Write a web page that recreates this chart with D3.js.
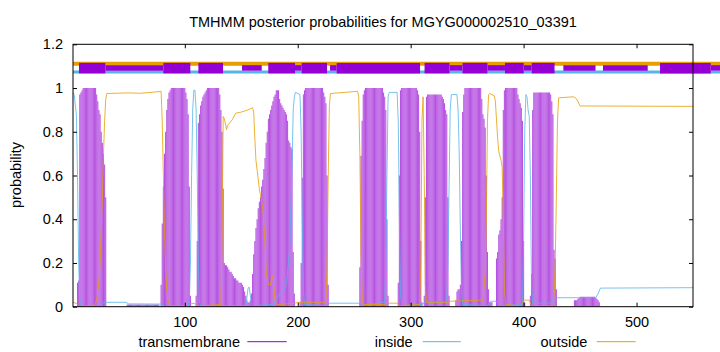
<!DOCTYPE html>
<html>
<head>
<meta charset="utf-8">
<script src="https://cdn.jsdelivr.net/npm/d3@7"></script>
<style>
  body { margin: 0; background: #fff; }
  svg { display: block; font-family: "Liberation Sans", Arial, sans-serif; }
</style>
</head>
<body>
<div id="chart"></div>
<script>
  // sequence / axis data
  var seqLength = 550;
  var yTicks = [0, 0.2, 0.4, 0.6, 0.8, 1, 1.2];
  var xTicks = [100, 200, 300, 400, 500];

  // transmembrane posterior, per residue, in runs starting at tmStarts[i]
  var tmStarts = [5, 49, 79, 110, 202, 255, 289, 312, 340, 376, 406, 445];
  var tmProbs = [
    [0.11,0.12,0.97,0.98,0.99,1,1,1,1,1,1,1,1,1,1,1,1,0.97,0.94,0.9,0.88,0.8,0.75,0.7,0.65,0.5],
    [0.01,0.01,0.01,0.01,0.01,0.01,0.01,0.01,0.01,0.01,0.01,0.01,0.01,0.01,0.01,0.01,0.01,0.01,0.01,0.01,0.01,0.01,0.01,0.01,0.01,0.01,0.01,0.01,0.01],
    [0.1,0.38,0.55,0.7,0.8,0.9,0.95,0.98,0.99,1,1,1,1,1,1,1,1,1,1,1,1,1,0.98,0.95,0.88,0.55,0.05],
    [0.05,0.3,0.84,0.88,0.92,0.94,0.96,0.97,0.98,0.99,1,1,1,1,1,1,1,1,1,1,1,0.97,0.9,0.8,0.54,
     0.2,0.19,0.19,0.18,0.17,0.16,0.16,0.15,0.14,0.13,0.13,0.12,0.12,0.11,0.11,0.11,0.1,0.09,0.07,0.05,0.03,0.02,0.02,0.03,0.06,0.15,
     0.24,0.3,0.36,0.4,0.45,0.48,0.5,0.55,0.58,0.63,0.68,0.75,0.8,0.86,0.88,0.9,0.92,0.94,0.96,0.97,
     0.99,0.99,0.99,0.95,0.93,0.92,0.91,0.9,0.89,0.88,0.85,0.76,0.75,0.73,0.72,0.25,0.06],
    [0.02,0.2,0.59,0.97,0.99,1,1,1,1,1,1,1,1,1,1,1,1,1,1,1,1,0.98,0.96,0.93,0.6,0.1],
    [0.18,0.69,0.85,0.97,0.99,1,1,1,1,1,1,1,1,1,1,1,1,1,1,1,1,0.98,0.96,0.9,0.4,0.05],
    [0.11,0.6,0.99,1,1,1,1,1,1,1,1,1,1,1,1,1,1,0.99,0.97,0.8,0.3,0.02],
    [0.05,0.5,0.96,0.97,0.97,0.97,0.97,0.97,0.97,0.97,0.97,0.97,0.97,0.97,0.97,0.97,0.96,0.95,0.93,0.9,0.88,0.5,0.05],
    [0.03,0.07,0.08,0.08,0.1,0.3,0.89,0.97,1,1,1,1,1,1,1,1,1,1,1,1,1,1,1,0.95,0.88,0.86,0.82,0.6,0.25,0.08,0.02,0.02,0.02],
    [0.22,0.25,0.33,0.35,0.4,0.5,0.9,0.99,1,1,1,1,1,1,1,1,1,1,1,0.97,0.95,0.93,0.91,0.85,0.3,0.02],
    [0.05,0.15,0.9,0.98,0.98,0.98,0.98,0.98,0.98,0.98,0.98,0.98,0.98,0.98,0.98,0.98,0.98,0.98,0.97,0.94,0.88,0.26,0.22,0.08],
    [0.03,0.03,0.03,0.035,0.04,0.046,0.046,0.046,0.046,0.046,0.046,0.046,0.046,0.046,0.046,0.046,0.046,0.046,0.046,0.04,0.035,0.03,0.02]
  ];

  // inside / outside curves as [residue, probability]
  var insidePts = [[1,0.98],[2,0.97],[4,0.88],[5,0.6],[6,0.2],[7,0.03],[8,0.005],[26,0.003],[28,0.02],[48,0.02],[50,0.013],[80,0.012],[82,0.002],
    [103,0.003],[104,0.03],[105,0.2],[106,0.6],[107,0.9],[108,0.99],[109,0.99],[110,0.9],[111,0.6],[112,0.2],[113,0.02],[114,0.005],
    [154,0.005],[155,0.04],[156,0.085],[157,0.09],[158,0.05],[159,0.01],[160,0.005],[178,0.01],[181,0.03],[184,0.06],[187,0.07],[190,0.1],
    [193,0.28],[195,0.65],[196,0.9],[197,0.96],[198,0.98],[202,0.97],[203,0.8],[204,0.4],[205,0.08],[206,0.01],[226,0.005],[228,0.016],
    [254,0.016],[256,0.005],[277,0.02],[278,0.2],[279,0.6],[280,0.96],[281,0.98],[288,0.98],[289,0.85],[290,0.4],[291,0.05],[292,0.005],
    [310,0.01],[313,0.02],[330,0.02],[332,0.03],[333,0.2],[334,0.55],[335,0.9],[336,0.97],[341,0.97],[342,0.9],[343,0.7],[344,0.35],
    [345,0.08],[346,0.01],[368,0.005],[371,0.025],[376,0.025],[379,0.005],[399,0.01],[400,0.3],[401,0.8],[402,0.97],[403,0.96],[404,0.9],
    [405,0.87],[406,0.6],[407,0.1],[408,0.016],[425,0.016],[427,0.038],[429,0.041],[464,0.041],[466,0.06],[468,0.085],[550,0.087]];

  var outsidePts = [[1,0.02],[4,0.015],[6,0.003],[7,0],[20,0.005],[22,0.03],[24,0.12],[25,0.2],[26,0.35],[27,0.5],[28,0.7],[29,0.85],
    [30,0.95],[31,0.975],[50,0.978],[60,0.976],[70,0.98],[79,0.985],[80,0.85],[81,0.6],[82,0.35],[83,0.18],[84,0.08],[85,0.03],[87,0.005],
    [103,0.003],[105,0.015],[109,0.015],[111,0.003],[132,0.01],[133,0.3],[134,0.87],[135,0.86],[137,0.81],[138,0.83],[142,0.855],[145,0.885],
    [150,0.89],[156,0.9],[160,0.91],[161,0.89],[162,0.77],[163,0.67],[166,0.54],[168,0.48],[169,0.45],[171,0.3],[172,0.16],[174,0.1],
    [176,0.1],[177,0.14],[178,0.137],[180,0.025],[182,0.01],[197,0.015],[200,0.02],[224,0.02],[225,0.03],[226,0.2],[227,0.6],[228,0.92],
    [229,0.975],[253,0.985],[254,0.96],[255,0.7],[256,0.25],[257,0.05],[258,0.01],[277,0.01],[280,0.016],[289,0.016],[290,0.005],
    [308,0.01],[309,0.2],[310,0.85],[311,0.96],[312,0.6],[313,0.1],[314,0.02],[333,0.02],[335,0.025],[364,0.03],[366,0.15],[367,0.4],
    [368,0.85],[369,0.97],[370,0.975],[372,0.97],[374,0.965],[375,0.94],[377,0.77],[378,0.71],[380,0.67],[381,0.64],[382,0.42],[383,0.08],
    [384,0.01],[398,0.003],[400,0.03],[405,0.03],[407,0.005],[426,0.005],[427,0.05],[428,0.2],[429,0.5],[430,0.85],[431,0.955],
    [444,0.96],[446,0.955],[448,0.94],[450,0.918],[550,0.916]];

  // top strip: predicted segments (residue ranges)
  var tmBoxes = [[6.3,29.6],[81,104.9],[112,133.8],[173.9,197.6],[203.5,225.9],[234.5,308.3],[312.3,334.4],[345.9,367.9],[383.5,400.1],[407.2,427.4],[520.8,565.7]];
  var tmThin = [[29.6,81],[150.7,168.1],[197.6,203.5],[228.6,234.5],[334.4,345.9],[367.9,383.5],[400.1,407.2],[435.2,463.7],[470.3,509.9],[565.7,575]];
  var stripEnd = 575;

  var colours = { tm: '#9400d3', inside: '#56b4e9', outside: '#e69f00' };

  var width = 720, height = 352;
  var plotLeft = 73, plotRight = 693, plotTop = 44.3, plotBottom = 306.7;

  var x = d3.scaleLinear().domain([1, seqLength]).range([plotLeft, plotRight]);
  var y = d3.scaleLinear().domain([0, 1.2]).range([plotBottom, plotTop]);

  var svg = d3.select('#chart').append('svg')
    .attr('width', width)
    .attr('height', height);

  svg.append('defs').append('clipPath').attr('id', 'plotclip')
    .append('rect')
    .attr('x', plotLeft).attr('y', plotTop)
    .attr('width', plotRight - plotLeft).attr('height', plotBottom - plotTop);

  // impulses
  var tmData = [];
  tmStarts.forEach(function(s, i) {
    tmProbs[i].forEach(function(p, j) {
      tmData.push([s + j, p]);
    });
  });

  var plot = svg.append('g').attr('clip-path', 'url(#plotclip)');

  plot.selectAll('line.imp')
    .data(tmData)
    .enter().append('line')
    .attr('class', 'imp')
    .attr('x1', function(d) { return x(d[0]); })
    .attr('x2', function(d) { return x(d[0]); })
    .attr('y1', y(0))
    .attr('y2', function(d) { return y(d[1]); })
    .attr('stroke', colours.tm)
    .attr('stroke-opacity', 0.68)
    .attr('stroke-width', 1.05);

  var line = d3.line()
    .x(function(d) { return x(d[0]); })
    .y(function(d) { return y(d[1]); });

  plot.append('path').datum(insidePts)
    .attr('d', line).attr('fill', 'none')
    .attr('stroke', colours.inside).attr('stroke-opacity', 0.8).attr('stroke-width', 1);

  plot.append('path').datum(outsidePts)
    .attr('d', line).attr('fill', 'none')
    .attr('stroke', colours.outside).attr('stroke-opacity', 0.8).attr('stroke-width', 1);

  // top strip (not clipped, runs past the frame like the original)
  var strip = svg.append('g');
  strip.append('line')
    .attr('x1', x(1)).attr('x2', x(stripEnd))
    .attr('y1', y(1.111)).attr('y2', y(1.111))
    .attr('stroke', colours.outside).attr('stroke-width', 4);
  strip.append('line')
    .attr('x1', x(1)).attr('x2', x(stripEnd))
    .attr('y1', y(1.073)).attr('y2', y(1.073))
    .attr('stroke', colours.inside).attr('stroke-width', 3);
  strip.selectAll('line.thin')
    .data(tmThin)
    .enter().append('line')
    .attr('class', 'thin')
    .attr('x1', function(d) { return x(d[0]); })
    .attr('x2', function(d) { return x(d[1]); })
    .attr('y1', y(1.092)).attr('y2', y(1.092))
    .attr('stroke', colours.tm).attr('stroke-width', 5.5);
  strip.selectAll('line.box')
    .data(tmBoxes)
    .enter().append('line')
    .attr('class', 'box')
    .attr('x1', function(d) { return x(d[0]); })
    .attr('x2', function(d) { return x(d[1]); })
    .attr('y1', y(1.091)).attr('y2', y(1.091))
    .attr('stroke', colours.tm).attr('stroke-width', 10.5);

  // frame
  svg.append('rect')
    .attr('x', plotLeft).attr('y', plotTop)
    .attr('width', plotRight - plotLeft).attr('height', plotBottom - plotTop)
    .attr('fill', 'none').attr('stroke', '#000').attr('stroke-width', 1);

  // axes
  var fontSize = '14.5px';
  svg.append('g').attr('transform', 'translate(' + plotLeft + ',0)')
    .call(d3.axisLeft(y).tickValues(yTicks).tickSize(-4).tickPadding(10)
      .tickFormat(function(d) { return String(+d.toFixed(1)); }));
  svg.append('g').attr('transform', 'translate(' + plotRight + ',0)')
    .call(d3.axisRight(y).tickValues(yTicks).tickSize(-4).tickFormat(''));
  svg.append('g').attr('transform', 'translate(0,' + plotBottom + ')')
    .call(d3.axisBottom(x).tickValues(xTicks).tickSize(-4).tickPadding(10));
  svg.append('g').attr('transform', 'translate(0,' + plotTop + ')')
    .call(d3.axisTop(x).tickValues(xTicks).tickSize(-4).tickFormat(''));

  svg.selectAll('.domain').remove();
  svg.selectAll('.tick line').attr('stroke', '#000');
  svg.selectAll('.tick text')
    .attr('fill', '#000')
    .style('font-size', fontSize)
    .style('font-family', '"Liberation Sans", Arial, sans-serif');

  // title and label
  svg.append('text')
    .attr('x', 383).attr('y', 27)
    .attr('text-anchor', 'middle')
    .style('font-size', fontSize)
    .text('TMHMM posterior probabilities for MGYG000002510_03391');

  svg.append('text')
    .attr('transform', 'translate(21,175) rotate(-90)')
    .attr('text-anchor', 'middle')
    .style('font-size', fontSize)
    .text('probability');

  // legend
  var legend = [
    { label: 'transmembrane', colour: colours.tm, textX: 240, x1: 247.3, x2: 286.7 },
    { label: 'inside', colour: colours.inside, textX: 412.7, x1: 422.7, x2: 460.7 },
    { label: 'outside', colour: colours.outside, textX: 587.3, x1: 596.7, x2: 635.7 }
  ];
  var lg = svg.append('g').selectAll('g').data(legend).enter().append('g');
  lg.append('text')
    .attr('x', function(d) { return d.textX; })
    .attr('y', 346.5)
    .attr('text-anchor', 'end')
    .style('font-size', fontSize)
    .text(function(d) { return d.label; });
  lg.append('line')
    .attr('x1', function(d) { return d.x1; })
    .attr('x2', function(d) { return d.x2; })
    .attr('y1', 341.7).attr('y2', 341.7)
    .attr('stroke', function(d) { return d.colour; })
    .attr('stroke-width', 1);
</script>
</body>
</html>
